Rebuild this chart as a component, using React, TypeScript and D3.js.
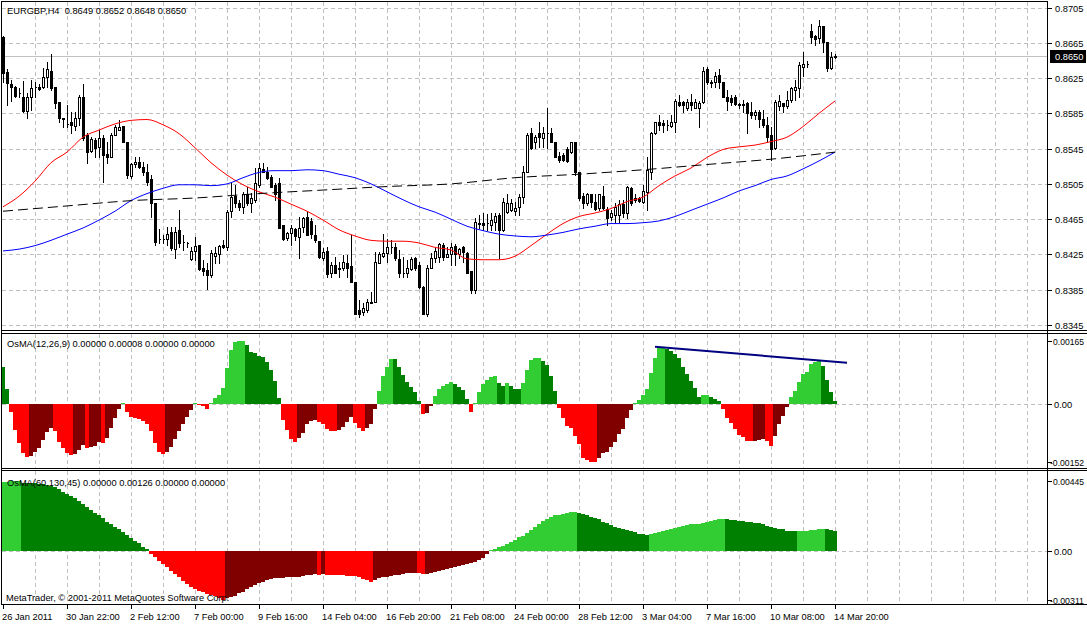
import React from "react";
import * as d3 from "d3";

// EURGBP H4 bars, prices in 1/10000 (0.8671 -> 8671)
const open = [
  8671, 8632, 8618, 8615, 8608, 8604, 8588, 8604, 8615, 8615,
  8615, 8626, 8633, 8615, 8598, 8580, 8573, 8575, 8571, 8580,
  8604, 8561, 8542, 8555, 8547, 8557, 8539, 8536, 8561, 8566,
  8571, 8553, 8514, 8527, 8530, 8524, 8519, 8511, 8483, 8443,
  8443, 8443, 8450, 8431, 8453, 8439, 8438, 8420, 8429, 8436,
  8410, 8407, 8402, 8423, 8426, 8436, 8433, 8474, 8491, 8483,
  8479, 8493, 8483, 8487, 8504, 8522, 8519, 8513, 8504, 8506,
  8458, 8444, 8449, 8454, 8445, 8456, 8468, 8463, 8447, 8440,
  8421, 8429, 8404, 8413, 8408, 8410, 8415, 8412, 8394, 8362,
  8360, 8362, 8370, 8371, 8415, 8423, 8427, 8433, 8433, 8420,
  8404, 8404, 8408, 8421, 8413, 8388, 8358, 8410, 8421, 8422,
  8436, 8422, 8426, 8435, 8426, 8433, 8427, 8406, 8385, 8461,
  8461, 8461, 8458, 8462, 8470, 8453, 8473, 8475, 8474, 8479,
  8490, 8518, 8563, 8552, 8563, 8557, 8563, 8563, 8553, 8537,
  8538, 8544, 8541, 8552, 8519, 8491, 8483, 8493, 8485, 8478,
  8491, 8477, 8468, 8470, 8470, 8482, 8472, 8500, 8487, 8489,
  8485, 8496, 8519, 8563, 8575, 8574, 8572, 8571, 8575, 8598,
  8598, 8591, 8598, 8591, 8591, 8598, 8635, 8621, 8620, 8629,
  8620, 8603, 8602, 8604, 8595, 8594, 8597, 8587, 8583, 8587,
  8579, 8572, 8561, 8546, 8593, 8597, 8593, 8600, 8612, 8614,
  8638, 8641, 8678, 8673, 8670, 8684, 8666, 8636, 8649,
];
const high = [
  8673, 8635, 8623, 8616, 8614, 8622, 8608, 8623, 8620, 8618,
  8636, 8643, 8652, 8615, 8598, 8580, 8595, 8587, 8586, 8606,
  8618, 8563, 8558, 8557, 8566, 8561, 8553, 8563, 8572, 8577,
  8571, 8553, 8529, 8536, 8536, 8530, 8527, 8515, 8483, 8454,
  8447, 8456, 8456, 8456, 8475, 8447, 8439, 8433, 8445, 8436,
  8419, 8415, 8430, 8433, 8436, 8441, 8475, 8506, 8504, 8487,
  8496, 8502, 8495, 8523, 8529, 8529, 8524, 8515, 8506, 8512,
  8458, 8450, 8458, 8455, 8468, 8468, 8474, 8466, 8458, 8440,
  8432, 8433, 8416, 8422, 8416, 8424, 8424, 8447, 8394, 8373,
  8370, 8375, 8382, 8428, 8428, 8448, 8443, 8441, 8438, 8430,
  8422, 8419, 8422, 8422, 8416, 8389, 8413, 8427, 8432, 8438,
  8438, 8433, 8438, 8437, 8432, 8435, 8428, 8406, 8466, 8470,
  8472, 8471, 8472, 8472, 8472, 8489, 8494, 8488, 8485, 8494,
  8525, 8563, 8568, 8561, 8575, 8570, 8591, 8568, 8553, 8541,
  8540, 8547, 8552, 8553, 8519, 8495, 8495, 8494, 8493, 8494,
  8503, 8479, 8475, 8483, 8487, 8487, 8503, 8502, 8493, 8490,
  8504, 8535, 8564, 8575, 8583, 8577, 8578, 8583, 8601, 8606,
  8599, 8601, 8607, 8601, 8599, 8637, 8637, 8623, 8632, 8635,
  8620, 8612, 8606, 8606, 8597, 8600, 8598, 8598, 8589, 8589,
  8589, 8581, 8569, 8600, 8606, 8597, 8610, 8615, 8623, 8643,
  8655, 8644, 8686, 8674, 8691, 8684, 8666, 8655, 8652,
];
const low = [
  8620, 8595, 8599, 8603, 8604, 8587, 8580, 8589, 8604, 8612,
  8614, 8615, 8612, 8591, 8575, 8569, 8570, 8563, 8566, 8572,
  8555, 8529, 8541, 8535, 8535, 8507, 8529, 8536, 8560, 8566,
  8552, 8512, 8512, 8524, 8523, 8515, 8504, 8468, 8436, 8438,
  8438, 8436, 8430, 8421, 8433, 8430, 8433, 8419, 8419, 8407,
  8402, 8386, 8399, 8415, 8415, 8432, 8430, 8468, 8479, 8475,
  8472, 8481, 8473, 8485, 8502, 8518, 8510, 8501, 8487, 8455,
  8441, 8441, 8436, 8441, 8421, 8450, 8447, 8444, 8439, 8421,
  8419, 8399, 8399, 8404, 8399, 8407, 8399, 8394, 8358, 8354,
  8356, 8360, 8370, 8371, 8415, 8422, 8416, 8427, 8419, 8399,
  8399, 8399, 8407, 8407, 8387, 8357, 8355, 8410, 8416, 8416,
  8419, 8422, 8413, 8413, 8421, 8416, 8404, 8381, 8381, 8455,
  8453, 8453, 8453, 8453, 8421, 8452, 8472, 8474, 8470, 8470,
  8483, 8518, 8545, 8546, 8547, 8547, 8546, 8552, 8535, 8530,
  8531, 8530, 8540, 8515, 8487, 8478, 8481, 8479, 8475, 8475,
  8477, 8458, 8464, 8462, 8462, 8468, 8466, 8481, 8485, 8485,
  8483, 8475, 8510, 8562, 8566, 8564, 8566, 8569, 8564, 8593,
  8587, 8589, 8589, 8591, 8570, 8597, 8618, 8615, 8615, 8614,
  8603, 8589, 8595, 8595, 8591, 8587, 8563, 8580, 8579, 8569,
  8569, 8552, 8532, 8544, 8589, 8587, 8591, 8598, 8600, 8603,
  8627, 8638, 8665, 8663, 8665, 8654, 8633, 8635, 8648,
];
const close = [
  8631, 8619, 8615, 8605, 8608, 8588, 8604, 8614, 8615, 8613,
  8626, 8635, 8614, 8597, 8580, 8579, 8573, 8572, 8580, 8603,
  8557, 8541, 8556, 8546, 8557, 8538, 8536, 8561, 8569, 8570,
  8553, 8515, 8527, 8530, 8524, 8519, 8507, 8483, 8439, 8443,
  8443, 8448, 8432, 8450, 8438, 8439, 8438, 8429, 8435, 8408,
  8406, 8402, 8427, 8427, 8435, 8433, 8473, 8490, 8483, 8479,
  8494, 8483, 8489, 8506, 8523, 8519, 8512, 8502, 8493, 8455,
  8443, 8449, 8455, 8446, 8455, 8466, 8447, 8448, 8441, 8422,
  8428, 8403, 8413, 8404, 8410, 8416, 8410, 8394, 8358, 8358,
  8364, 8371, 8371, 8416, 8426, 8427, 8433, 8433, 8421, 8404,
  8404, 8410, 8420, 8410, 8388, 8358, 8410, 8421, 8429, 8437,
  8422, 8426, 8433, 8426, 8431, 8428, 8404, 8385, 8462, 8460,
  8458, 8461, 8464, 8469, 8453, 8485, 8483, 8483, 8478, 8490,
  8519, 8561, 8546, 8558, 8558, 8563, 8563, 8553, 8536, 8532,
  8532, 8531, 8552, 8519, 8489, 8483, 8494, 8485, 8477, 8493,
  8478, 8466, 8472, 8479, 8482, 8472, 8502, 8483, 8489, 8486,
  8497, 8521, 8563, 8575, 8572, 8572, 8572, 8575, 8599, 8595,
  8595, 8598, 8595, 8598, 8597, 8633, 8620, 8619, 8627, 8620,
  8603, 8599, 8598, 8596, 8596, 8596, 8585, 8583, 8587, 8579,
  8572, 8558, 8544, 8598, 8599, 8593, 8600, 8614, 8615, 8640,
  8641, 8641, 8671, 8669, 8684, 8666, 8636, 8649, 8650,
];

// moving averages, read every 4th bar (red, blue) and every 16th bar (dashed)
const redMa = [
  8479, 8491, 8508, 8529, 8541, 8558, 8566, 8573, 8577, 8578,
  8572, 8562, 8546, 8529, 8515, 8504, 8496, 8490, 8482, 8474,
  8464, 8453, 8446, 8441, 8440, 8440, 8438, 8433, 8430, 8420,
  8419, 8419, 8423, 8435, 8448, 8460, 8468, 8472, 8477, 8485,
  8490, 8503, 8514, 8523, 8535, 8544, 8547, 8549, 8553, 8558,
  8570, 8585, 8599,
];
const blueMa = [
  8429, 8431, 8435, 8441, 8448, 8455, 8464, 8474, 8486, 8494,
  8500, 8504, 8504, 8503, 8505, 8512, 8518, 8520, 8520, 8521,
  8520, 8516, 8512, 8505, 8496, 8487, 8479, 8473, 8465, 8457,
  8452, 8448, 8446, 8445, 8447, 8450, 8454, 8457, 8460, 8460,
  8461, 8463, 8468, 8475, 8482, 8489, 8497, 8503, 8510, 8514,
  8522, 8531, 8541,
];
const dashMa = [8474, 8480, 8486, 8489, 8494, 8498, 8502, 8505, 8512, 8516, 8521, 8527, 8533, 8541];

// OsMA values in points (1e-5)
const osmaFast = [
  98, 39, -20, -68, -102, -128, -139, -137, -126, -115,
  -94, -73, -63, -72, -99, -116, -129, -134, -132, -120,
  -107, -116, -114, -110, -100, -101, -90, -64, -37, -13,
  2, -20, -33, -38, -40, -45, -53, -72, -103, -127,
  -132, -127, -112, -92, -72, -53, -33, -16, 2, -3,
  -5, -13, 3, 15, 24, 43, 93, 141, 163, 164,
  165, 155, 135, 133, 127, 124, 111, 89, 60, 15,
  -42, -68, -92, -99, -90, -77, -53, -45, -42, -48,
  -53, -65, -70, -72, -68, -59, -48, -33, -51, -62,
  -72, -62, -53, -13, 34, 74, 98, 118, 117, 98,
  76, 57, 45, 32, 8, -27, -24, -4, 21, 39,
  47, 52, 58, 52, 45, 37, 13, -20, 3, 31,
  52, 63, 71, 72, 54, 47, 55, 47, 39, 38,
  55, 89, 115, 120, 121, 113, 102, 73, 34, -10,
  -36, -57, -64, -83, -106, -141, -147, -151, -152, -141,
  -129, -125, -112, -99, -79, -65, -38, -16, 2, 10,
  24, 39, 82, 120, 146, 147, 145, 140, 131, 120,
  98, 78, 61, 43, 19, 23, 24, 18, 13, 8,
  -13, -38, -51, -66, -81, -86, -96, -97, -96, -94,
  -92, -97, -109, -83, -52, -31, -7, 18, 34, 57,
  78, 85, 104, 111, 112, 100, 63, 31, 8,
];
const osmaSlow = [
  440, 441, 443, 444, 445, 434, 433, 432, 430, 428,
  426, 422, 413, 405, 392, 377, 362, 350, 335, 318,
  299, 282, 261, 244, 229, 208, 186, 172, 155, 138,
  121, 102, 81, 66, 49, 28, 11, -19, -40, -61,
  -83, -104, -125, -146, -167, -189, -210, -227, -242, -252,
  -263, -273, -280, -286, -300, -311, -301, -295, -286, -269,
  -259, -244, -231, -216, -206, -195, -184, -178, -174, -172,
  -170, -168, -166, -164, -162, -159, -155, -151, -147, -149,
  -148, -150, -151, -152, -153, -154, -156, -158, -161, -167,
  -175, -186, -195, -184, -174, -167, -163, -159, -155, -151,
  -146, -142, -141, -140, -142, -147, -146, -142, -131, -125,
  -121, -114, -106, -100, -95, -89, -83, -74, -68, -57,
  -42, -21, 4, 11, 23, 32, 45, 59, 70, 87,
  97, 117, 133, 150, 172, 193, 201, 214, 229, 230,
  235, 239, 246, 248, 242, 235, 227, 216, 208, 201,
  186, 176, 163, 155, 144, 138, 131, 127, 119, 108,
  107, 102, 110, 117, 123, 129, 136, 142, 148, 155,
  161, 165, 172, 173, 174, 180, 186, 191, 197, 201,
  203, 201, 199, 197, 193, 189, 186, 184, 180, 176,
  170, 161, 155, 144, 140, 138, 127, 126, 125, 126,
  127, 129, 133, 136, 138, 140, 137, 131, 126,
];

// divergence line drawn on the fast OsMA
const trendIdx = [163, 211];
const trendVal = [150, 108];

const priceTicks = [8705, 8665, 8625, 8585, 8545, 8505, 8465, 8425, 8385, 8345];
const lastPrice = 8650;
const fastTicks = [165, 0, -152];
const slowTicks = [445, 0, -311];
const timeTickIdx = [0, 16, 32, 48, 64, 80, 96, 112, 128, 144, 160, 176, 192, 208];
const timeLabels = [
  "26 Jan 2011", "30 Jan 22:00", "2 Feb 12:00", "7 Feb 00:00", "9 Feb 16:00",
  "14 Feb 04:00", "16 Feb 20:00", "21 Feb 08:00", "24 Feb 00:00", "28 Feb 12:00",
  "3 Mar 04:00", "7 Mar 16:00", "10 Mar 08:00", "14 Mar 20:00",
];

const FONT = "Liberation Sans, Arial, sans-serif";
const FS = 9.3;
const GRID = "#c0c0c0";
const AX = 1047.5;

function barColor(v: number, prev: number) {
  if (v >= 0) return v > prev ? "#32cd32" : "#008000";
  return v < prev ? "#ff0000" : "#800000";
}

export default function App() {
  const x = d3.scaleLinear().domain([0, 208]).range([3, 835]);
  const yMain = d3.scaleLinear().domain([8345, 8705]).range([325, 7.5]);
  const yFast = d3.scaleLinear().domain([-152, 165]).range([462, 341]);
  const ySlow = d3.scaleLinear().domain([-311, 445]).range([600, 481]);

  const px = (i: number) => Math.round(x(i));

  const vGrid: number[] = [];
  for (let k = 1; 3 + 32 * k < 1047; k++) vGrid.push(3 + 32 * k);

  const maLine = (step: number) =>
    d3
      .line<number>()
      .x((_, i) => x(i * step))
      .y((d) => yMain(d))
      .curve(d3.curveMonotoneX);

  const histogram = (vals: number[], y: d3.ScaleLinear<number, number>) => {
    const y0 = Math.round(y(0));
    return vals.map((v, i) => {
      const prev = i > 0 ? vals[i - 1] : 2 * vals[0] - vals[1];
      const yv = Math.round(y(v));
      return (
        <rect
          key={i}
          x={px(i) - 2}
          width={4}
          y={Math.min(y0, yv)}
          height={Math.max(1, Math.abs(yv - y0))}
          fill={barColor(v, prev)}
        />
      );
    });
  };

  const vGridLines = (y1: number, y2: number) =>
    vGrid.map((gx) => (
      <line
        key={gx}
        x1={gx + 0.5}
        x2={gx + 0.5}
        y1={y1}
        y2={y2}
        stroke={GRID}
        strokeDasharray="4,3"
      />
    ));

  const hDash = (yy: number, key?: string | number) => (
    <line
      key={key}
      x1={2}
      x2={AX}
      y1={Math.round(yy) + 0.5}
      y2={Math.round(yy) + 0.5}
      stroke={GRID}
      strokeDasharray="4,3"
    />
  );

  const txt = {
    fontFamily: FONT,
    fontSize: FS,
    fill: "#000",
  } as const;

  const yLast = Math.round(yMain(lastPrice));

  const oscLabels = (ticks: number[], s: d3.ScaleLinear<number, number>) =>
    ticks.map((v) => {
      const yy = Math.round(s(v));
      const label = v === 0 ? "0.00" : (v / 100000).toFixed(5);
      const neg = v < 0;
      return (
        <g key={v}>
          <line x1={AX} x2={AX + 4} y1={yy + 0.5} y2={yy + 0.5} stroke="#000" />
          <text
            x={v === 0 ? 1054 : neg ? 1050 : 1053}
            y={yy + 3.5}
            {...txt}
            textLength={v === 0 ? undefined : neg ? 34 : 31}
            lengthAdjust="spacingAndGlyphs"
          >
            {label}
          </text>
        </g>
      );
    });

  return (
    <svg
      width={1087}
      height={624}
      style={{ position: "absolute", left: 0, top: 0, display: "block", background: "#fff" }}
      shapeRendering="crispEdges"
    >
      <rect width={1087} height={624} fill="#fff" />

      {/* main price panel */}
      <g>
        {vGridLines(2, 330)}
        {priceTicks.map((p) => hDash(yMain(p), p))}
        <line x1={2} x2={AX} y1={yLast + 0.5} y2={yLast + 0.5} stroke={GRID} />
        {open.map((o, i) => {
          const cx = px(i);
          const yo = Math.round(yMain(o));
          const yc = Math.round(yMain(close[i]));
          const yh = Math.round(yMain(high[i]));
          const yl = Math.round(yMain(low[i]));
          const top = Math.min(yo, yc);
          const bot = Math.max(yo, yc);
          const bull = close[i] > o;
          return (
            <g key={i}>
              <line x1={cx + 0.5} x2={cx + 0.5} y1={yh} y2={yl + 1} stroke="#000" />
              <path
                d={`M${cx - 0.5},${top + 0.5}H${cx + 1.5}V${bot + 0.5}H${cx - 0.5}Z`}
                fill={bull ? "#fff" : "#000"}
                stroke="#000"
              />
            </g>
          );
        })}
        <g shapeRendering="auto" fill="none">
          <path d={maLine(4)(redMa) || ""} stroke="#ff0000" strokeWidth={1} />
          <path d={maLine(4)(blueMa) || ""} stroke="#0000ff" strokeWidth={1} />
          <path d={maLine(16)(dashMa) || ""} stroke="#000" strokeWidth={1} strokeDasharray="10,5" />
        </g>
        <text x={7} y={14} style={{ whiteSpace: "pre" }} {...txt}>
          {"EURGBP,H4  0.8649 0.8652 0.8648 0.8650"}
        </text>
      </g>

      {/* fast OsMA */}
      <g>
        {vGridLines(334, 468)}
        {hDash(yFast(0))}
        {histogram(osmaFast, yFast)}
        <line
          x1={x(trendIdx[0])}
          x2={x(trendIdx[1])}
          y1={yFast(trendVal[0])}
          y2={yFast(trendVal[1])}
          stroke="#000080"
          strokeWidth={2}
          shapeRendering="auto"
        />
        <text x={7} y={346.5} {...txt}>
          OsMA(12,26,9) 0.00000 0.00008 0.00000 0.00000
        </text>
      </g>

      {/* slow OsMA */}
      <g>
        {vGridLines(471, 604)}
        {hDash(ySlow(0))}
        {histogram(osmaSlow, ySlow)}
        <text x={7} y={486} {...txt}>
          OsMA(60,130,45) 0.00000 0.00126 0.00000 0.00000
        </text>
        <text x={6} y={601} {...txt}>
          MetaTrader, © 2001-2011 MetaQuotes Software Corp.
        </text>
      </g>

      {/* frames */}
      <g fill="none" stroke="#000">
        <line x1={1.5} x2={1.5} y1={1} y2={605} />
        <line x1={1} x2={AX} y1={1.5} y2={1.5} />
        <line x1={AX} x2={AX} y1={1} y2={605} />
        <line x1={1} x2={1087} y1={330.5} y2={330.5} />
        <line x1={1} x2={1087} y1={333.5} y2={333.5} />
        <line x1={1} x2={1087} y1={468.5} y2={468.5} />
        <line x1={1} x2={1087} y1={470.5} y2={470.5} />
        <line x1={1} x2={1087} y1={604.5} y2={604.5} />
      </g>

      {/* price axis */}
      {priceTicks.map((p) => {
        const yy = Math.round(yMain(p));
        return (
          <g key={p}>
            <line x1={AX} x2={AX + 4} y1={yy + 0.5} y2={yy + 0.5} stroke="#000" />
            <text x={1055} y={yy + 3.5} {...txt}>
              {(p / 10000).toFixed(4)}
            </text>
          </g>
        );
      })}
      <rect x={1050} y={yLast - 6} width={36} height={13} fill="#000" />
      <text x={1055} y={yLast + 3.5} {...txt} fill="#fff">
        {(lastPrice / 10000).toFixed(4)}
      </text>

      {oscLabels(fastTicks, yFast)}
      {oscLabels(slowTicks, ySlow)}

      {/* time axis */}
      {timeTickIdx.map((idx, k) => (
        <g key={idx}>
          <line x1={px(idx) + 0.5} x2={px(idx) + 0.5} y1={605} y2={609} stroke="#000" />
          <text x={px(idx) - 1} y={620} {...txt}>
            {timeLabels[k]}
          </text>
        </g>
      ))}
    </svg>
  );
}
